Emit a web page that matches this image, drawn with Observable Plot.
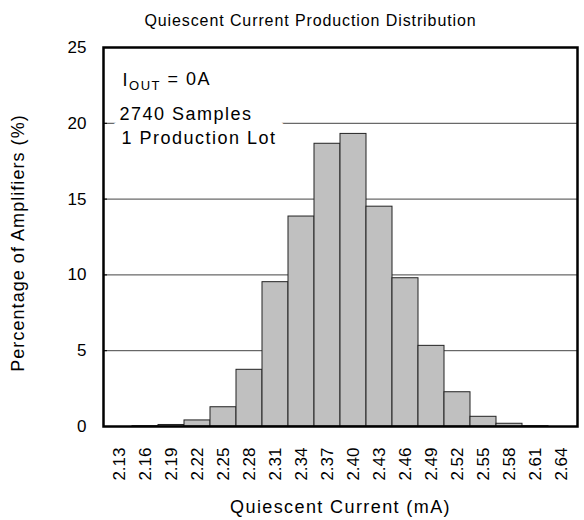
<!DOCTYPE html>
<html>
<head>
<meta charset="utf-8">
<script src="https://cdn.jsdelivr.net/npm/d3@7"></script>
<script src="https://cdn.jsdelivr.net/npm/@observablehq/plot@0.6"></script>
<style>
  body { margin: 0; background: #fff; }
  #chart svg { font-family: "Liberation Sans", Arial, sans-serif; }
</style>
</head>
<body>
<div id="chart"></div>
<script>
const bins = ["2.13","2.16","2.19","2.22","2.25","2.28","2.31","2.34","2.37","2.40","2.43","2.46","2.49","2.52","2.55","2.58","2.61","2.64"];
const percents = [0, 0.02, 0.1, 0.4, 1.27, 3.74, 9.52, 13.85, 18.65, 19.3, 14.5, 9.78, 5.32, 2.26, 0.64, 0.18, 0.02, 0];
const yTicks = [0, 5, 10, 15, 20, 25];
const gridValues = [5, 10, 15, 20];
const titleText = "Quiescent Current Production Distribution";
const xLabel = "Quiescent Current (mA)";
const yLabel = "Percentage of Amplifiers (%)";
const noteLines = ["IOUT = 0A", "2740 Samples", "1 Production Lot"];

const data = bins.map((b, i) => ({bin: b, pct: percents[i]}));

const plot = Plot.plot({
  width: 584,
  height: 520,
  marginLeft: 103,
  marginRight: 7,
  marginTop: 47,
  marginBottom: 94,
  style: {fontFamily: "Liberation Sans, Arial, sans-serif", background: "#fff"},
  x: {type: "band", domain: bins, padding: 0},
  y: {domain: [0, 25]},
  marks: [
    Plot.ruleY(gridValues, {stroke: "#444", strokeWidth: 1}),
    Plot.text([noteLines[2]], {frameAnchor: "top-left", dx: 18, dy: 84, text: d => d, fontSize: 18, fill: "#000", stroke: "#fff", strokeWidth: 26, textAnchor: "start", className: "note"}),
    Plot.text([noteLines[1]], {frameAnchor: "top-left", dx: 16, dy: 60, text: d => d, fontSize: 18, fill: "#000", textAnchor: "start", className: "note"}),
    Plot.text([noteLines[0]], {frameAnchor: "top-left", dx: 19, dy: 26, text: d => d, fontSize: 18, fill: "#000", textAnchor: "start", className: "iout"}),
    Plot.barY(data, {x: "bin", y: "pct", fill: "#c0c0c0", stroke: "#222", strokeWidth: 1}),
    Plot.frame({stroke: "#000", strokeWidth: 2.5}),
    Plot.axisY({ticks: yTicks, tickSize: 0, tickPadding: 17, fontSize: 17, label: yLabel, labelAnchor: "center", labelOffset: 92, labelArrow: "none"}),
    Plot.axisY({ticks: yTicks, tickSize: -4, text: null, label: null}),
    Plot.axisX({tickRotate: -90, tickSize: 0, tickPadding: 21, fontSize: 17, label: xLabel, labelAnchor: "center", labelOffset: 86, labelArrow: "none"}),
    Plot.text([titleText], {frameAnchor: "top", dx: -30, dy: -33, text: d => d, fontSize: 16, fill: "#000", className: "ttl"})
  ]
});

// Subscript for I_OUT
d3.select(plot).selectAll("g.iout text").each(function() {
  const t = d3.select(this);
  t.text(null);
  t.append("tspan").text("I");
  t.append("tspan").attr("dy", "0.3em").attr("font-size", "13").text("OUT");
  t.append("tspan").attr("dy", "-0.3em").text(" = 0A");
});
d3.select(plot).selectAll("g.note, g.iout").style("letter-spacing", "1.5px");
d3.select(plot).selectAll("g.ttl").style("letter-spacing", "0.9px");
d3.select(plot).selectAll("[aria-label='x-axis label']")
  .attr("font-size", 18).style("letter-spacing", "1.4px");
d3.select(plot).selectAll("[aria-label='y-axis label']")
  .attr("font-size", 18).style("letter-spacing", "1.05px");
d3.select(plot).selectAll("[aria-label='y-axis label'] text").attr("dx", -6);

document.getElementById("chart").appendChild(plot);
</script>
</body>
</html>
